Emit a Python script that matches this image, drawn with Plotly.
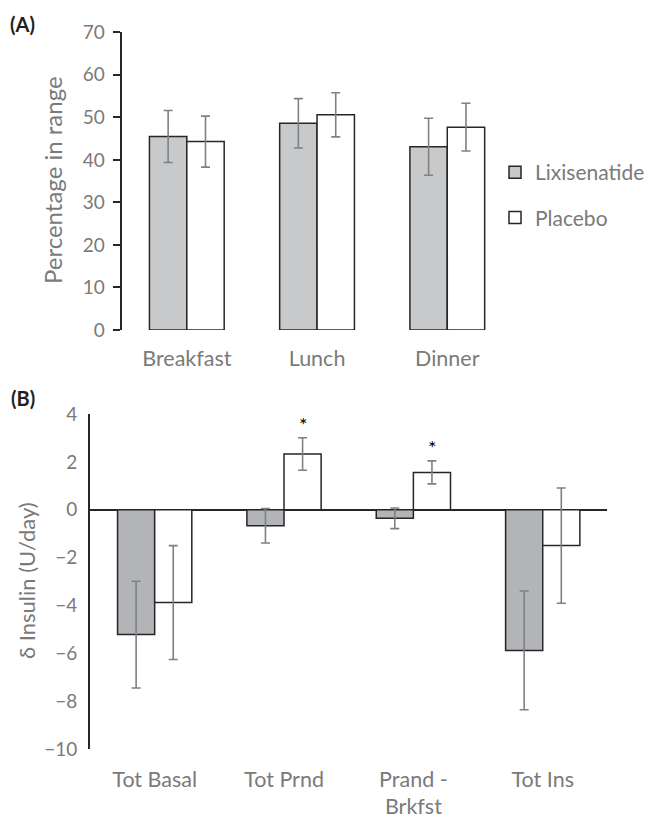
import plotly.graph_objects as go

# ---------- Data ----------
meals = ["Breakfast", "Lunch", "Dinner"]
lixi_range = [45.5, 48.6, 43.1]
lixi_range_err = [6.1, 5.8, 6.7]
plac_range = [44.3, 50.6, 47.7]
plac_range_err = [6.0, 5.2, 5.6]

ins_cats = ["Tot Basal", "Tot Prnd", "Prand -<br>Brkfst", "Tot Ins"]
lixi_ins = [-5.22, -0.67, -0.36, -5.88]
lixi_ins_err = [2.23, 0.72, 0.43, 2.48]
plac_ins = [-3.88, 2.33, 1.56, -1.50]
plac_ins_err = [2.38, 0.68, 0.48, 2.41]
signif = ["", "*", "*", ""]

y1_ticks = [0, 10, 20, 30, 40, 50, 60, 70]
y2_ticks = [4, 2, 0, -2, -4, -6, -8, -10]

# ---------- Style ----------
FONT = "Lato"
GRAY_TXT = "#7a7a7a"
DARK = "#262626"
ERR = "#808080"
W, H = 663, 820   # slightly wider than the window; the extra strip is empty

def px_x(p):
    return p / W

def px_y(p):
    return 1 - p / H

err_style = dict(type="data", color=ERR, thickness=1.6, width=4.5)

fig = go.Figure()

# Panel A
fig.add_trace(go.Bar(
    x=meals, y=lixi_range, name="Lixisenatide",
    marker=dict(color="#c8c9cb", line=dict(color=DARK, width=1.5)),
    error_y=dict(array=lixi_range_err, **err_style),
    xaxis="x", yaxis="y", legendgroup="a", showlegend=True,
))
fig.add_trace(go.Bar(
    x=meals, y=plac_range, name="Placebo",
    marker=dict(color="#ffffff", line=dict(color=DARK, width=1.5)),
    error_y=dict(array=plac_range_err, **err_style),
    xaxis="x", yaxis="y", legendgroup="b", showlegend=True,
))

# Panel B
fig.add_trace(go.Bar(
    x=ins_cats, y=lixi_ins, name="Lixisenatide",
    marker=dict(color="#b3b4b7", line=dict(color=DARK, width=1.5)),
    error_y=dict(array=lixi_ins_err, **err_style),
    xaxis="x2", yaxis="y2", showlegend=False,
))
fig.add_trace(go.Bar(
    x=ins_cats, y=plac_ins, name="Placebo",
    marker=dict(color="#ffffff", line=dict(color=DARK, width=1.5)),
    error_y=dict(array=plac_ins_err, **err_style),
    xaxis="x2", yaxis="y2", showlegend=False,
))

annotations = []
for c, v, e, s in zip(ins_cats, plac_ins, plac_ins_err, signif):
    if s:
        annotations.append(dict(
            x=c, y=v + e, xref="x2", yref="y2", text=s, showarrow=False,
            xshift=19, yanchor="bottom", yshift=0,
            font=dict(family=FONT, size=20, color="#000000"),
        ))

annotations += [
    dict(x=px_x(8), y=px_y(24), xref="paper", yref="paper",
         text="<b>(A)</b>", showarrow=False, xanchor="left", yanchor="middle",
         font=dict(family=FONT, size=20, color="#231f20")),
    dict(x=px_x(9), y=px_y(397.5), xref="paper", yref="paper",
         text="<b>(B)</b>", showarrow=False, xanchor="left", yanchor="middle",
         font=dict(family=FONT, size=20, color="#231f20")),
    dict(x=px_x(53), y=px_y(180), xref="paper", yref="paper",
         text="Percentage in range", textangle=-90, showarrow=False,
         xanchor="center", yanchor="middle",
         font=dict(family=FONT, size=24, color=GRAY_TXT)),
    dict(x=px_x(26), y=px_y(581), xref="paper", yref="paper",
         text="\u03b4 Insulin (U/day)", textangle=-90, showarrow=False,
         xanchor="center", yanchor="middle",
         font=dict(family=FONT, size=22, color=GRAY_TXT)),
]

tickfont_num = dict(family=FONT, size=19, color=GRAY_TXT)
tickfont_cat = dict(family=FONT, size=21.5, color=GRAY_TXT)

fig.update_layout(
    width=W, height=H,
    margin=dict(l=0, r=0, t=0, b=0),
    paper_bgcolor="white", plot_bgcolor="white",
    barmode="group", bargap=0.426, bargroupgap=0,
    font=dict(family=FONT, color=GRAY_TXT),
    showlegend=True,
    legend=dict(
        x=px_x(495), y=px_y(152), xanchor="left", yanchor="top",
        font=dict(family=FONT, size=21, color=GRAY_TXT),
        tracegroupgap=15, bgcolor="rgba(0,0,0,0)",
        itemwidth=30,
    ),
    annotations=annotations,
    xaxis=dict(
        domain=[px_x(121.7), px_x(512.4)], anchor="y",
        range=[-0.5, 2.5], showline=False, ticks="", showgrid=False,
        tickfont=tickfont_cat, automargin=False, ticklabelstandoff=13,
    ),
    yaxis=dict(
        domain=[px_y(330), px_y(32.3)], anchor="x",
        range=[0, 70], tickvals=y1_ticks, showgrid=False, zeroline=False,
        showline=True, linecolor=DARK, linewidth=2,
        ticks="outside", ticklen=7, tickwidth=2, tickcolor=DARK,
        tickfont=tickfont_num, automargin=False, ticklabelstandoff=4,
    ),
    xaxis2=dict(
        domain=[px_x(90), px_x(607.4)], anchor="y2",
        range=[-0.5, 3.5], showline=False, ticks="", showgrid=False,
        tickfont=tickfont_cat, automargin=False, ticklabelstandoff=15,
    ),
    yaxis2=dict(
        domain=[px_y(749), px_y(414)], anchor="x2",
        range=[-10, 4], tickvals=y2_ticks,
        ticktext=[str(t).replace("-", "\u2212") for t in y2_ticks],
        showgrid=False,
        zeroline=True, zerolinecolor=DARK, zerolinewidth=2,
        showline=True, linecolor=DARK, linewidth=2, ticks="",
        tickfont=tickfont_num, automargin=False, ticklabelstandoff=7,
    ),
)

fig.write_html(
    "out.html",
    config={"displayModeBar": False},
    post_script="document.body.style.margin='0';document.body.style.overflow='hidden';",
)
